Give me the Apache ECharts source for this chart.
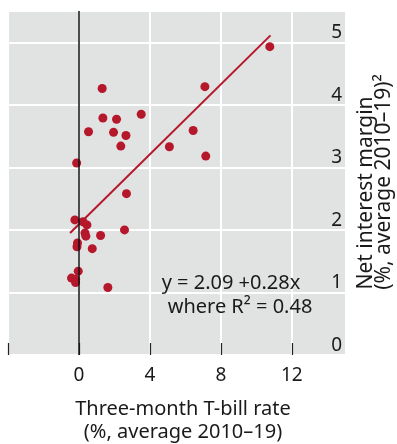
<!DOCTYPE html>
<html>
<head>
<meta charset="utf-8">
<script src="https://cdn.jsdelivr.net/npm/echarts@6/dist/echarts.min.js"></script>
<style>
  html, body { margin: 0; padding: 0; background: #fff; }
  #chart { width: 397px; height: 444px; }
</style>
</head>
<body>
<div id="chart"></div>
<script>
// T-bill rate vs net interest margin, one dot per economy
const tbillRate = [1.31, 1.35, 2.12, 3.51, 0.54, 1.95, 2.65, 2.36, 5.1, 6.44, -0.13, 2.68,
  10.76, 7.1, 7.15, -0.23, 0.23, 0.45, 2.57, 0.34, 0.39, 1.22, -0.08, -0.11, 0.75,
  -0.04, -0.42, -0.19, -0.19, 1.63];
const netMargin = [4.26, 3.79, 3.77, 3.85, 3.57, 3.56, 3.51, 3.34, 3.33, 3.59, 3.07, 2.58,
  4.93, 4.29, 3.18, 2.16, 2.13, 2.08, 2.0, 1.95, 1.9, 1.91, 1.79, 1.73, 1.7,
  1.34, 1.23, 1.21, 1.16, 1.08];
// fitted line end points (y = 2.09 + 0.28x)
const fitX = [-0.5, 10.8];
const fitY = [1.95, 5.11];
const xTicks = [-4, 0, 4, 8, 12];
const xLabels = [0, 4, 8, 12];
const yLabels = [0, 1, 2, 3, 4, 5];

const red = "#b5172b";
const font = "Noto Sans";
const txt = "#1a1a1a";
const fs = 19;

let points = [];
for (let i = 0; i < tbillRate.length; i++) points.push([tbillRate[i], netMargin[i]]);
let fit = [];
for (let i = 0; i < fitX.length; i++) fit.push([fitX[i], fitY[i]]);

const myChart = echarts.init(document.getElementById("chart"));
const option = {
  animation: false,
  textStyle: { fontFamily: font },
  grid: {
    left: 8, right: 52, top: 11, bottom: 89,
    show: true, backgroundColor: "#e1e2e2", borderWidth: 0
  },
  xAxis: {
    type: "value", min: -4, max: 15, interval: 4,
    axisLine: { show: false },
    axisTick: { show: true, inside: true, length: 12, customValues: xTicks,
      lineStyle: { color: "#222", width: 1.2 } },
    axisLabel: { customValues: xLabels, margin: 11, fontSize: fs, color: txt, fontFamily: font },
    splitLine: { show: true, lineStyle: { color: "#fff", width: 2 } }
  },
  yAxis: {
    type: "value", position: "right", min: 0, max: 5.5, interval: 1,
    axisLine: { show: false },
    axisTick: { show: false },
    axisLabel: { inside: true, customValues: yLabels, margin: 3, fontSize: fs, color: txt,
      fontFamily: font, verticalAlign: "bottom", padding: [0, 0, 0, 0] },
    splitLine: { show: true, lineStyle: { color: "#fff", width: 2 } }
  },
  series: [
    {
      type: "line", data: fit, symbol: "none", silent: true,
      lineStyle: { color: red, width: 2 },
      markLine: {
        silent: true, symbol: "none", label: { show: false },
        lineStyle: { color: "#111", width: 1.5, type: "solid" },
        data: [{ xAxis: 0 }]
      }
    },
    {
      type: "scatter", data: points, symbolSize: 9,
      itemStyle: { color: red, opacity: 1 }, z: 3
    }
  ],
  graphic: [
    { type: "text", z: 100, x: 231, y: 283, style: { text: "y = 2.09 +0.28x", fontSize: 20, fill: txt,
      fontFamily: font, align: "center", verticalAlign: "middle" } },
    { type: "text", z: 100, x: 240, y: 307, style: { text: "where R\u00b2 = 0.48", fontSize: 20, fill: txt,
      fontFamily: font, align: "center", verticalAlign: "middle" } },
    { type: "text", x: 183, y: 409, style: { text: "Three-month T-bill rate", fontSize: 20, fill: txt,
      fontFamily: font, align: "center", verticalAlign: "middle" } },
    { type: "text", x: 183, y: 432, style: { text: "(%, average 2010\u201319)", fontSize: 20, fill: txt,
      fontFamily: font, align: "center", verticalAlign: "middle" } },
    { type: "text", x: 366, y: 193, rotation: Math.PI / 2, style: { text: "Net interest margin", fontSize: 21,
      fill: txt, fontFamily: font, align: "center", verticalAlign: "middle" } },
    { type: "text", x: 384, y: 182, rotation: Math.PI / 2, style: { text: "(%, average 2010\u201319)\u00b2", fontSize: 21,
      fill: txt, fontFamily: font, align: "center", verticalAlign: "middle" } }
  ]
};
myChart.setOption(option);
</script>
</body>
</html>
